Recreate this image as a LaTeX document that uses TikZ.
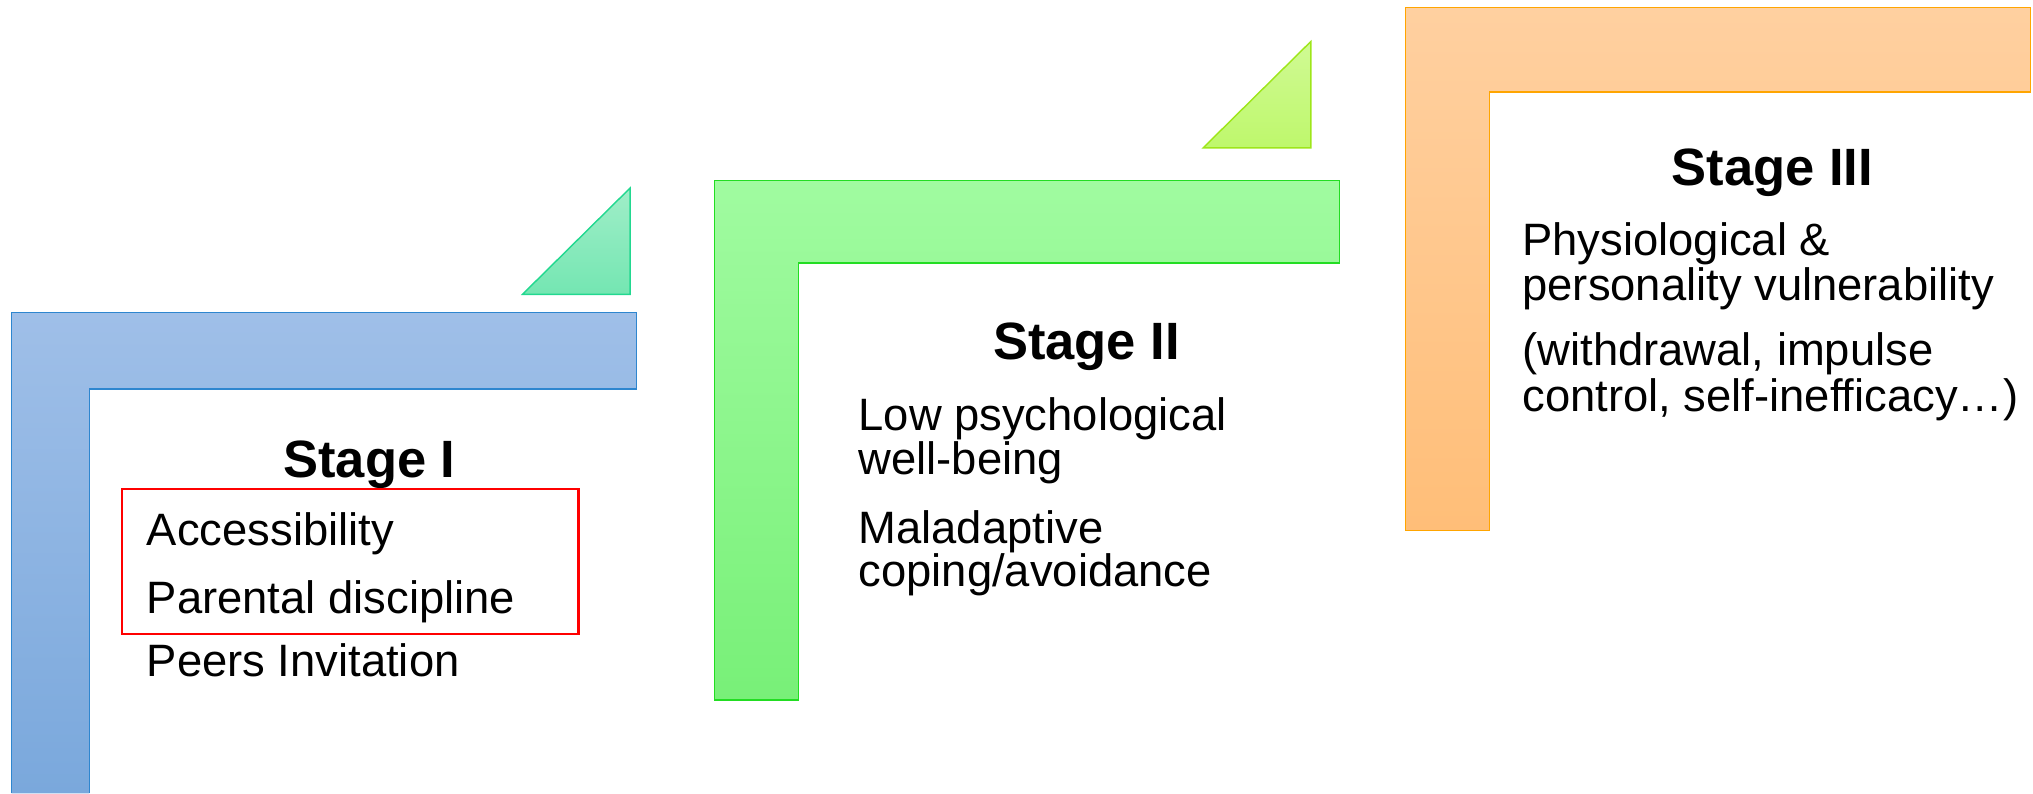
\documentclass[tikz,border=0pt]{standalone}
\usepackage{fontspec}
\setmainfont{Liberation Sans}
\definecolor{blueTop}{HTML}{9FBFE8}
\definecolor{blueBot}{HTML}{7AA8DC}
\definecolor{blueEdge}{HTML}{2E86CF}
\definecolor{tealTop}{HTML}{A0EEC8}
\definecolor{tealBot}{HTML}{74E6B2}
\definecolor{tealEdge}{HTML}{22D890}
\definecolor{greenTop}{HTML}{A0FBA0}
\definecolor{greenBot}{HTML}{78F078}
\definecolor{greenEdge}{HTML}{22DD22}
\definecolor{limeTop}{HTML}{D0FA94}
\definecolor{limeBot}{HTML}{BEF86C}
\definecolor{limeEdge}{HTML}{9EE61A}
\definecolor{orangeTop}{HTML}{FFD0A0}
\definecolor{orangeBot}{HTML}{FFBE78}
\definecolor{orangeEdge}{HTML}{FFA500}
\begin{document}
\begin{tikzpicture}[x=1pt,y=-1pt,
  body/.style={anchor=base west, inner sep=0pt, font=\fontsize{35}{35}\selectfont},
  head/.style={anchor=base, inner sep=0pt, font=\fontsize{40.5}{40.5}\selectfont\bfseries},
  rim/.style={line width=1.1pt, line join=miter}]
\useasboundingbox (0,0) rectangle (1568,612);

% Stage I bracket (runs off the bottom edge)
\path[top color=blueTop, bottom color=blueBot]
  (9,241) -- (491,241) -- (491,300) -- (69,300) -- (69,612) -- (9,612) -- cycle;
\draw[rim, blueEdge] (9,612) -- (9,241) -- (491,241) -- (491,300) -- (69,300) -- (69,612);
\path[top color=tealTop, bottom color=tealBot, draw=tealEdge, rim]
  (403,227) -- (486,227) -- (486,145) -- cycle;

% Stage II bracket
\path[top color=greenTop, bottom color=greenBot, draw=greenEdge, rim]
  (551,139) -- (1033,139) -- (1033,203) -- (616,203) -- (616,540) -- (551,540) -- cycle;
\path[top color=limeTop, bottom color=limeBot, draw=limeEdge, rim]
  (928,114) -- (1011,114) -- (1011,32) -- cycle;

% Stage III bracket
\path[top color=orangeTop, bottom color=orangeBot, draw=orangeEdge, rim]
  (1084,6) -- (1566,6) -- (1566,71) -- (1149,71) -- (1149,409) -- (1084,409) -- cycle;

% Stage I text
\node[head] (h1) at (285,368) {Stage I};
\node[body] (s1a) at (113,421) {Accessibility};
\node[body] (s1b) at (113,473) {Parental discipline};
\node[body] (s1c) at (113,522) {Peers Invitation};
\draw[red, line width=2pt] (94,377) rectangle (446,489);

% Stage II text
\node[head] (h2) at (838,277) {Stage II};
\node[body] (s2a) at (662,332) {Low psychological};
\node[body] (s2b) at (662,366) {well-being};
\node[body] (s2c) at (662,419) {Maladaptive};
\node[body] (s2d) at (662,452) {coping/avoidance};

% Stage III text
\node[head] (h3) at (1367,143) {Stage III};
\node[body] (s3a) at (1174,197) {Physiological \&};
\node[body] (s3b) at (1174,232) {personality vulnerability};
\node[body] (s3c) at (1174,282) {(withdrawal, impulse};
\node[body] (s3d) at (1174,317) {control, self-inefficacy…)};
\end{tikzpicture}
\end{document}
